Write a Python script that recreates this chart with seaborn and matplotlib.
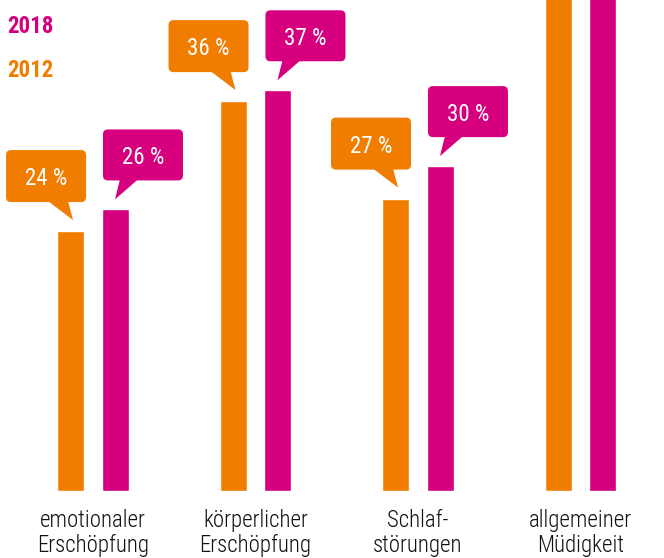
import numpy as np
import pandas as pd
import matplotlib
matplotlib.use('Agg')
import matplotlib.pyplot as plt
import matplotlib.transforms as mtransforms
from matplotlib.patches import FancyBboxPatch, Polygon
import seaborn as sns

# data (last group runs past the top of the chart)
categories = ['emotionaler\nErschöpfung', 'körperlicher\nErschöpfung',
              'Schlaf-\nstörungen', 'allgemeiner\nMüdigkeit']
values_2012 = [24, 36, 27, 50]
values_2018 = [26, 37, 30, 54]
years = ['2012', '2018']

orange = '#F07D00'
magenta = '#D6007E'

sns.set_style('white')
plt.rcParams['font.family'] = ['Roboto Condensed', 'DejaVu Sans Condensed',
                               'Liberation Sans Narrow', 'Roboto', 'DejaVu Sans']
plt.rcParams['font.stretch'] = 'condensed'

df = pd.DataFrame({
    'category': categories * 2,
    'value': values_2012 + values_2018,
    'year': ['2012'] * len(categories) + ['2018'] * len(categories),
})

fig = plt.figure(figsize=(6.64, 5.58), dpi=100)
ax = fig.add_axes([0, 67 / 558, 1, 491 / 558])

sns.barplot(data=df, x='category', y='value', hue='year', hue_order=years,
            palette=[orange, magenta], width=0.552, gap=0.4,
            legend=False, saturation=1, ax=ax)

ax.set_xlim(-93 / 162.5, (664 - 93) / 162.5)
ax.set_ylim(0, 491 / 10.83)
sns.despine(ax=ax, left=True, bottom=True)
ax.set_yticks([])
ax.set_xlabel('')
ax.set_ylabel('')
ax.tick_params(axis='x', length=0, pad=13)
for lab in ax.get_xticklabels():
    lab.set_fontsize(16.5)
    lab.set_color('#111111')
    lab.set_fontweight('light')
    lab.set_linespacing(1.12)

# speech bubble callouts, sized in pixels, anchored at each bar's top corner
px = mtransforms.Affine2D().scale(1 / 100) + fig.dpi_scale_trans
ymax = ax.get_ylim()[1]
for bar in ax.patches:
    h = bar.get_height()
    if h > ymax or h <= 0:
        continue
    col = bar.get_facecolor()
    is_orange = np.allclose(col[:3], matplotlib.colors.to_rgb(orange), atol=0.02)
    if is_orange:
        ax_x = bar.get_x() + bar.get_width()
        box = (-78, 29, 80, 52)
        tail = [(-36, 30), (-16, 30), (-11, 11)]
    else:
        ax_x = bar.get_x()
        box = (1, 29, 80, 51)
        tail = [(18, 30), (36, 30), (13, 10)]
    trans = px + mtransforms.ScaledTranslation(ax_x, h, ax.transData)
    ax.add_patch(FancyBboxPatch((box[0], box[1]), box[2], box[3],
                                boxstyle='round,pad=0,rounding_size=5',
                                fc=col, ec='none', transform=trans, clip_on=False))
    ax.add_patch(Polygon(tail, closed=True, fc=col, ec='none',
                         transform=trans, clip_on=False))
    ax.text(box[0] + box[2] / 2, box[1] + box[3] / 2, f'{h:.0f} %',
            transform=trans, ha='center', va='center_baseline',
            color='white', fontsize=16.5, fontweight='normal', clip_on=False)

# year legend as coloured text
fig.text(7 / 664, 1 - 33 / 558, '2018', color=magenta, fontsize=16.5,
         fontweight='bold', ha='left', va='baseline')
fig.text(7 / 664, 1 - 77 / 558, '2012', color=orange, fontsize=16.5,
         fontweight='bold', ha='left', va='baseline')

fig.savefig('out.png', dpi=100)
